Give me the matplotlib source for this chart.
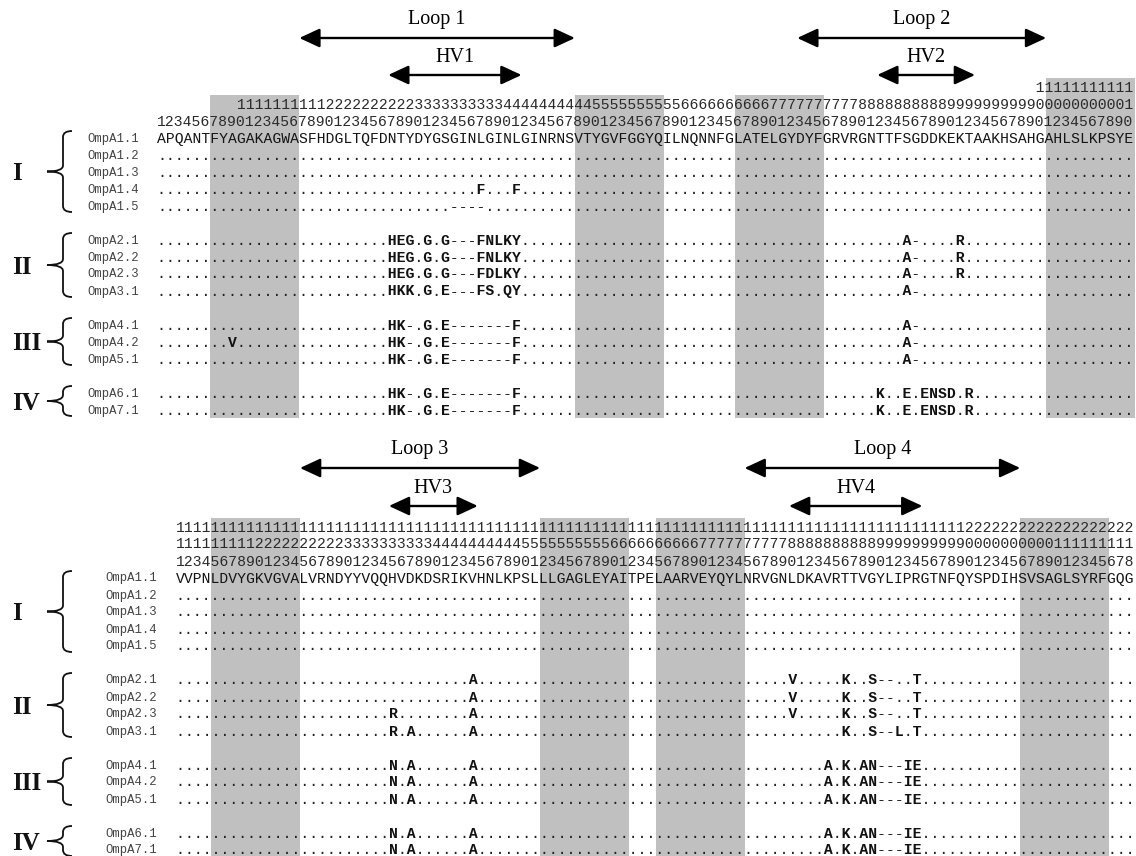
import matplotlib

matplotlib.use("Agg")
import matplotlib.pyplot as plt
from matplotlib.path import Path
from matplotlib.patches import PathPatch, Rectangle, FancyArrowPatch

# ---- data -----------------------------------------------------------------
# reference OmpA1.1 sequence, residues 1-110 (top block) and 111-218 (bottom)
top_ref = ("APQANTFYAGAKAGWASFHDGLTQFDNTYDYGSGINLGINLGINRNSVTYGVFGGYQ"
           "ILNQNNFGLATELGYDYFGRVRGNTTFSGDDKEKTAAKHSAHGAHLSLKPSYE")
bottom_ref = ("VVPNLDVYGKVGVALVRNDYYVQQHVDKDSRIKVHNLKPSLLLGAGLEYAITPE"
              "LAARVEYQYLNRVGNLDKAVRTTVGYLIPRGTNFQYSPDIHSVSAGLSYRFGQG")
top_start = 1
bottom_start = 111

group_names = ["I", "II", "III", "IV"]
group_members = [
    ["OmpA1.1", "OmpA1.2", "OmpA1.3", "OmpA1.4", "OmpA1.5"],
    ["OmpA2.1", "OmpA2.2", "OmpA2.3", "OmpA3.1"],
    ["OmpA4.1", "OmpA4.2", "OmpA5.1"],
    ["OmpA6.1", "OmpA7.1"],
]

# differences to the reference: (first residue, substituted string)
top_diffs = {
    "OmpA1.4": [(37, "F...F")],
    "OmpA1.5": [(34, "----")],
    "OmpA2.1": [(27, "HEG.G.G---FNLKY"), (85, "A-....R")],
    "OmpA2.2": [(27, "HEG.G.G---FNLKY"), (85, "A-....R")],
    "OmpA2.3": [(27, "HEG.G.G---FDLKY"), (85, "A-....R")],
    "OmpA3.1": [(27, "HKK.G.E---FS.QY"), (85, "A-")],
    "OmpA4.1": [(27, "HK-.G.E-------F"), (85, "A-")],
    "OmpA4.2": [(9, "V"), (27, "HK-.G.E-------F"), (85, "A-")],
    "OmpA5.1": [(27, "HK-.G.E-------F"), (85, "A-")],
    "OmpA6.1": [(27, "HK-.G.E-------F"), (82, "K..E.ENSD.R")],
    "OmpA7.1": [(27, "HK-.G.E-------F"), (82, "K..E.ENSD.R")],
}
bottom_diffs = {
    "OmpA2.1": [(144, "A"), (180, "V.....K..S--..T")],
    "OmpA2.2": [(144, "A"), (180, "V.....K..S--..T")],
    "OmpA2.3": [(135, "R"), (144, "A"), (180, "V.....K..S--..T")],
    "OmpA3.1": [(135, "R.A"), (144, "A"), (186, "K..S--L.T")],
    "OmpA4.1": [(135, "N.A......A"), (184, "A.K.AN---IE")],
    "OmpA4.2": [(135, "N.A......A"), (184, "A.K.AN---IE")],
    "OmpA5.1": [(135, "N.A......A"), (184, "A.K.AN---IE")],
    "OmpA6.1": [(135, "N.A......A"), (184, "A.K.AN---IE")],
    "OmpA7.1": [(135, "N.A......A"), (184, "A.K.AN---IE")],
}

# shaded (membrane) stretches, residue ranges inclusive
top_boxes = [(7, 16), (48, 57), (66, 75), (101, 110)]
bottom_boxes = [(115, 124), (152, 161), (165, 174), (206, 215)]

# loop / hypervariable arrows, residue edges
top_loops = [("Loop 1", 17, 48), ("Loop 2", 73, 101)]
top_hvs = [("HV1", 27, 42), ("HV2", 82, 93)]
bottom_loops = [("Loop 3", 125, 152), ("Loop 4", 175, 206)]
bottom_hvs = [("HV3", 135, 145), ("HV4", 180, 195)]

# ---- layout ---------------------------------------------------------------
W, H = 1136, 856
DPI = 100
FS = 10.67                      # mono font size (pt)
CW = 0.6 * FS * DPI / 72        # monospace advance (px)
ROW = 17
MONO = "Liberation Mono"
SERIF = "Liberation Serif"
GRAY = "#c0c0c0"

blocks = [
    dict(ref=top_ref, start=top_start, diffs=top_diffs, boxes=top_boxes,
         loops=top_loops, hvs=top_hvs, x0=157, y0=138, loop_y=38, hv_y=75),
    dict(ref=bottom_ref, start=bottom_start, diffs=bottom_diffs,
         boxes=bottom_boxes, loops=bottom_loops, hvs=bottom_hvs,
         x0=175.5, y0=578, loop_y=468, hv_y=506),
]


def row_string(ref, start, diffs):
    s = ["."] * len(ref)
    for pos, sub in diffs:
        for j, c in enumerate(sub):
            s[pos - start + j] = c
    return "".join(s)


def brace(ax, x_tip, x_stem, x_end, y_top, y_bot, r=6):
    ym = (y_top + y_bot) / 2
    verts = [(x_end, y_top), (x_stem, y_top), (x_stem, y_top + r),
             (x_stem, ym - r), (x_stem, ym), (x_tip, ym),
             (x_stem, ym), (x_stem, ym + r),
             (x_stem, y_bot - r), (x_stem, y_bot), (x_end, y_bot)]
    codes = [Path.MOVETO, Path.CURVE3, Path.CURVE3, Path.LINETO,
             Path.CURVE3, Path.CURVE3, Path.CURVE3, Path.CURVE3,
             Path.LINETO, Path.CURVE3, Path.CURVE3]
    ax.add_patch(PathPatch(Path(verts, codes), fill=False, lw=1.3,
                           edgecolor="#111111"))


def arrow(ax, xa, xb, y):
    ax.add_patch(FancyArrowPatch(
        (xa, y), (xb, y),
        arrowstyle="<|-|>,head_length=1.25,head_width=0.58",
        mutation_scale=10, lw=1.7, color="black",
        shrinkA=0, shrinkB=0, zorder=3))


fig = plt.figure(figsize=(W / DPI, H / DPI), dpi=DPI)
ax = fig.add_axes([0, 0, 1, 1])
ax.set_xlim(0, W)
ax.set_ylim(H, 0)
ax.axis("off")

# row index of each sequence (one empty row between groups)
row_of = {}
group_rows = []
k = 0
for members in group_members:
    first = k
    for name in members:
        row_of[name] = k
        k += 1
    group_rows.append((first, k - 1))
    k += 1
last_row = k - 2

for b in blocks:
    ref, start, x0, y0 = b["ref"], b["start"], b["x0"], b["y0"]
    n = len(ref)
    positions = list(range(start, start + n))

    def xcol(res):
        return x0 + (res - start) * CW

    # shaded boxes
    for a, e in b["boxes"]:
        level = 3 if e >= 100 else (2 if e >= 10 else 1)
        top = y0 - level * ROW - 9
        bot = y0 + last_row * ROW + 8
        ax.add_patch(Rectangle((xcol(a), top), xcol(e + 1) - xcol(a),
                               bot - top, facecolor=GRAY, edgecolor="none",
                               zorder=0))

    # numbering rows
    hundreds = "".join(str(p // 100) if p >= 100 else " " for p in positions)
    tens = "".join(str(p // 10 % 10) if p >= 10 else " " for p in positions)
    units = "".join(str(p % 10) for p in positions)
    for lvl, txt in ((3, hundreds), (2, tens), (1, units)):
        ax.text(x0, y0 - lvl * ROW + 4.5, txt, family=MONO, fontsize=FS,
                color="#2a2a2a", ha="left", va="baseline", zorder=2)

    # sequences
    for name, r in row_of.items():
        y = y0 + r * ROW
        ax.text(x0 - 70, y + 3.5, name, family=MONO, fontsize=8.8,
                color="#444444", ha="left", va="baseline", zorder=2)
        if r == 0:
            ax.text(x0, y + 4.5, ref, family=MONO, fontsize=FS,
                    color="#151515", ha="left", va="baseline", zorder=2)
            continue
        s = row_string(ref, start, b["diffs"].get(name, []))
        plain = "".join(c if c in ".-" else " " for c in s)
        bold = "".join(c if c not in ".-" else " " for c in s)
        ax.text(x0, y + 4.5, plain, family=MONO, fontsize=FS,
                color="#222222", ha="left", va="baseline", zorder=2)
        ax.text(x0, y + 4.5, bold, family=MONO, fontsize=FS,
                weight="bold", color="#111111", ha="left", va="baseline",
                zorder=2)

    # group numerals and braces
    for gname, (r0, r1) in zip(group_names, group_rows):
        ya, yb = y0 + r0 * ROW, y0 + r1 * ROW
        ax.text(12, (ya + yb) / 2 + 8, gname, family=SERIF, fontsize=18,
                weight="bold", color="#111111", ha="left", va="baseline")
        brace(ax, 47, 63, 72, ya - 7, yb + 6)

    # loop and hypervariable arrows
    for label, a, e in b["loops"]:
        arrow(ax, xcol(a), xcol(e), b["loop_y"])
        ax.text((xcol(a) + xcol(e)) / 2, b["loop_y"] - 14, label,
                family=SERIF, fontsize=14.5, ha="center", va="baseline")
    for label, a, e in b["hvs"]:
        arrow(ax, xcol(a), xcol(e), b["hv_y"])
        ax.text((xcol(a) + xcol(e)) / 2, b["hv_y"] - 13, label,
                family=SERIF, fontsize=14.5, ha="center", va="baseline")

fig.savefig("out.png", dpi=DPI)
